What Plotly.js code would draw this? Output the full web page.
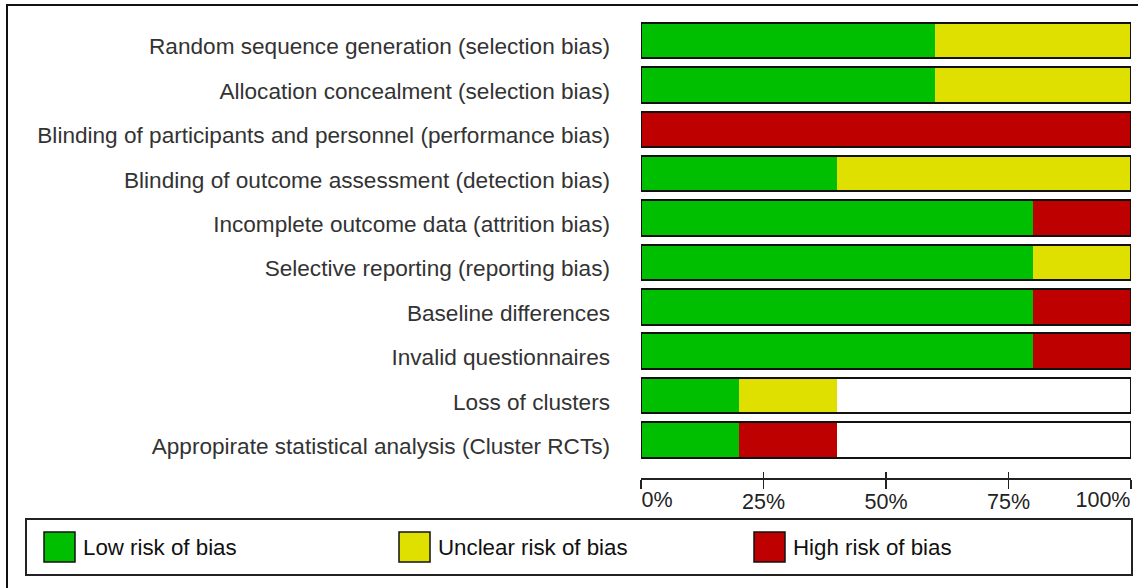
<!DOCTYPE html>
<html>
<head>
<meta charset="utf-8">
<script src="https://cdn.plot.ly/plotly-3.0.1.min.js"></script>
<style>html,body{margin:0;padding:0;background:#fff;}#chart{width:1138px;height:588px;}</style>
</head>
<body>
<div id="chart"></div>
<script>
// ---- data (percent of studies) ----
const categories = [
  "Random sequence generation (selection bias)",
  "Allocation concealment (selection bias)",
  "Blinding of participants and personnel (performance bias)",
  "Blinding of outcome assessment (detection bias)",
  "Incomplete outcome data (attrition bias)",
  "Selective reporting (reporting bias)",
  "Baseline differences",
  "Invalid questionnaires",
  "Loss of clusters",
  "Appropirate statistical analysis (Cluster RCTs)"
];
const lowRisk     = [60, 60, 0, 40, 80, 80, 80, 80, 20, 20];
const unclearRisk = [40, 40, 0, 60, 0, 20, 0, 0, 20, 0];
const highRisk    = [0, 0, 100, 0, 20, 0, 20, 20, 0, 20];
const seriesNames = ["Low risk of bias", "Unclear risk of bias", "High risk of bias"];
const seriesColors = ["#00bf00", "#e0e000", "#bf0000"];
const tickValues = [0, 25, 50, 75, 100];
const tickLabels = ["0%", "25%", "50%", "75%", "100%"];

// ---- layout geometry (pixels) ----
const W = 1138, H = 588;
const M = {l: 641, r: 7, t: 18, b: 110};
const PW = W - M.l - M.r, PH = H - M.t - M.b;
const px = x => (x - M.l) / PW;
const py = y => (H - M.b - y) / PH;
const FONT = "Liberation Sans, Arial, Helvetica, sans-serif";
const last = tickLabels.length - 1;

const seriesValues = [lowRisk, unclearRisk, highRisk];
const traces = seriesValues.map((vals, i) => ({
  type: "bar", orientation: "h",
  x: vals, y: categories, name: seriesNames[i],
  marker: {color: seriesColors[i], line: {width: 0}},
  hoverinfo: "x+y", showlegend: false
}));
// outline box around each full bar
traces.push({
  type: "bar", orientation: "h",
  x: categories.map(() => 100), y: categories,
  xaxis: "x2", yaxis: "y",
  marker: {color: "rgba(0,0,0,0)", line: {color: "#111", width: 2}},
  cliponaxis: false, hoverinfo: "skip", showlegend: false
});
// dummy trace to activate xaxis3
traces.push({type: "scatter", x: [], y: [], xaxis: "x3", yaxis: "y", showlegend: false, hoverinfo: "skip"});

const shapes = [
  // outer frame
  {type: "rect", xref: "paper", yref: "paper", x0: px(7), x1: px(1160), y0: py(5), y1: py(620),
   line: {color: "#111", width: 2}, fillcolor: "rgba(0,0,0,0)"},
  // legend box
  {type: "rect", xref: "paper", yref: "paper", x0: px(26), x1: px(1132), y0: py(519), y1: py(575),
   line: {color: "#222", width: 2}, fillcolor: "rgba(0,0,0,0)"}
];
const annotations = [];
const swatchX = [44, 399, 754];
seriesNames.forEach((name, i) => {
  shapes.push({type: "rect", xref: "paper", yref: "paper",
    x0: px(swatchX[i]), x1: px(swatchX[i] + 31), y0: py(532), y1: py(562),
    line: {color: "#111", width: 1.5}, fillcolor: seriesColors[i]});
  annotations.push({xref: "paper", yref: "paper", x: px(swatchX[i] + 37), y: py(547),
    xanchor: "left", yanchor: "middle", showarrow: false, text: name,
    font: {family: FONT, size: 22.3, color: "#111"}});
});

const tickFont = {family: FONT, size: 21.5, color: "#222"};
const baseX = {
  range: [0, 100], fixedrange: true, showgrid: false, zeroline: false,
  tickmode: "array", tickvals: tickValues, tickfont: tickFont
};
const layout = {
  width: W, height: H,
  margin: M,
  paper_bgcolor: "#fff", plot_bgcolor: "#fff",
  barmode: "stack", bargap: 0.2,
  showlegend: false,
  font: {family: FONT, size: 22, color: "#333"},
  xaxis: Object.assign({}, baseX, {
    showline: true, linecolor: "#222", linewidth: 1.5,
    ticktext: tickLabels.map((t, i) => (i === 0 || i === last) ? "" : t),
    ticks: "outside", ticklen: 9, tickwidth: 1.5, tickcolor: "#222",
    ticklabelstandoff: -5
  }),
  xaxis2: Object.assign({}, baseX, {
    overlaying: "x", side: "bottom", anchor: "y", showline: false,
    ticktext: tickLabels.map((t, i) => i === 0 ? t : ""),
    ticks: "inside", ticklen: 6, tickwidth: 1.5, tickcolor: "#222",
    ticklabelshift: 16, ticklabelstandoff: 6
  }),
  xaxis3: Object.assign({}, baseX, {
    overlaying: "x", side: "bottom", anchor: "y", showline: false,
    ticktext: tickLabels.map((t, i) => i === last ? t : ""),
    ticks: "", ticklabelshift: -28, ticklabelstandoff: 6
  }),
  yaxis: {
    type: "category", categoryorder: "array", categoryarray: categories,
    range: [9.856, -0.507], fixedrange: true,
    showgrid: false, zeroline: false, showline: false, ticks: "",
    ticklabelstandoff: 30, ticklabelshift: -6,
    tickfont: {family: FONT, size: 22.6, color: "#333"}
  },
  shapes: shapes,
  annotations: annotations
};

Plotly.newPlot("chart", traces, layout, {displayModeBar: false, staticPlot: true});
</script>
</body>
</html>
